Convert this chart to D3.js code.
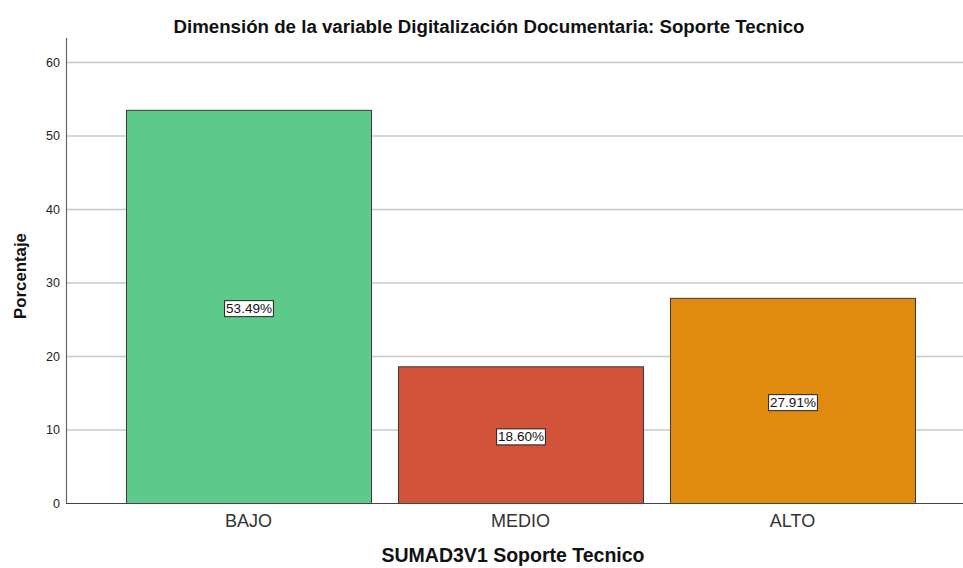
<!DOCTYPE html>
<html><head><meta charset="utf-8">
<script src="https://cdn.jsdelivr.net/npm/d3@7"></script>
<style>body{margin:0;background:#fff}svg{display:block;font-family:"Liberation Sans",Arial,sans-serif}</style>
</head><body><svg id="c" width="963" height="568"></svg>
<script>
const categories = ["BAJO", "MEDIO", "ALTO"];
const values = [53.49, 18.60, 27.91];
const labels = ["53.49%", "18.60%", "27.91%"];
const colors = ["#5ECA8A", "#D1533A", "#E08A10"];
const yTicks = [0, 10, 20, 30, 40, 50, 60];
const title = "Dimensión de la variable Digitalización Documentaria: Soporte Tecnico";
const xTitle = "SUMAD3V1 Soporte Tecnico";
const yTitle = "Porcentaje";

const svg = d3.select("#c");
const y = d3.scaleLinear().domain([0, 60]).range([503, 62]);
const x = d3.scaleBand().domain(categories).range([112, 929]).paddingInner(0.0993).paddingOuter(0.0515);

// gridlines
svg.append("g").selectAll("line").data(yTicks.filter(d => d > 0)).join("line")
  .attr("x1", 67).attr("x2", 963).attr("y1", d => y(d) + 0.5).attr("y2", d => y(d) + 0.5)
  .attr("stroke", "#c8c8c8").attr("stroke-width", 1.5);

// bars
svg.append("g").selectAll("rect").data(values).join("rect")
  .attr("x", (d, i) => x(categories[i]) + 0.5)
  .attr("y", d => y(d) + 0.5)
  .attr("width", x.bandwidth())
  .attr("height", d => y(0) - y(d))
  .attr("fill", (d, i) => colors[i])
  .attr("stroke", "#3a3a3a").attr("stroke-width", 1);

// y axis
const yAxis = d3.axisLeft(y).tickValues(yTicks).tickSize(0).tickPadding(7);
const gy = svg.append("g").attr("transform", "translate(67,0)").call(yAxis);
gy.select(".domain").remove();
gy.selectAll("text").attr("font-size", 12.5).attr("fill", "#222").attr("font-family", "Liberation Sans, Arial, sans-serif");
svg.append("line").attr("x1", 66.5).attr("x2", 66.5).attr("y1", 38).attr("y2", 503.5).attr("stroke", "#666").attr("stroke-width", 1.2);

// x axis
const xAxis = d3.axisBottom(x).tickSize(0).tickPadding(11);
const gx = svg.append("g").attr("transform", "translate(0,503)").call(xAxis);
gx.select(".domain").remove();
gx.selectAll("text").attr("font-size", 18).attr("fill", "#333").attr("font-family", "Liberation Sans, Arial, sans-serif");
svg.append("line").attr("x1", 66).attr("x2", 963).attr("y1", 503.5).attr("y2", 503.5).attr("stroke", "#444").attr("stroke-width", 1.2);

// value labels
const lg = svg.append("g").selectAll("g").data(values).join("g")
  .attr("transform", (d, i) => `translate(${x(categories[i]) + x.bandwidth() / 2 + 0.5},${(y(d) + y(0)) / 2 + 2})`);
lg.append("text").attr("text-anchor", "middle").attr("dy", "0.35em")
  .attr("font-size", 13.5).attr("fill", "#111").text((d, i) => labels[i]);
lg.each(function () {
  const g = d3.select(this);
  const b = g.select("text").node().getBBox();
  g.insert("rect", "text").attr("x", b.x - 1.5).attr("y", b.y - 0.5).attr("width", b.width + 3).attr("height", b.height + 1)
    .attr("fill", "#fff").attr("stroke", "#222").attr("stroke-width", 1);
});

// titles
svg.append("text").attr("x", 489).attr("y", 33).attr("text-anchor", "middle")
  .attr("font-size", 18.7).attr("font-weight", "bold").attr("fill", "#111").text(title);
svg.append("text").attr("x", 513).attr("y", 562).attr("text-anchor", "middle")
  .attr("font-size", 19.5).attr("font-weight", "bold").attr("fill", "#111").text(xTitle);
svg.append("text").attr("transform", "translate(26,276) rotate(-90)").attr("text-anchor", "middle")
  .attr("font-size", 16.8).attr("font-weight", "bold").attr("fill", "#111").text(yTitle);
</script></body></html>
